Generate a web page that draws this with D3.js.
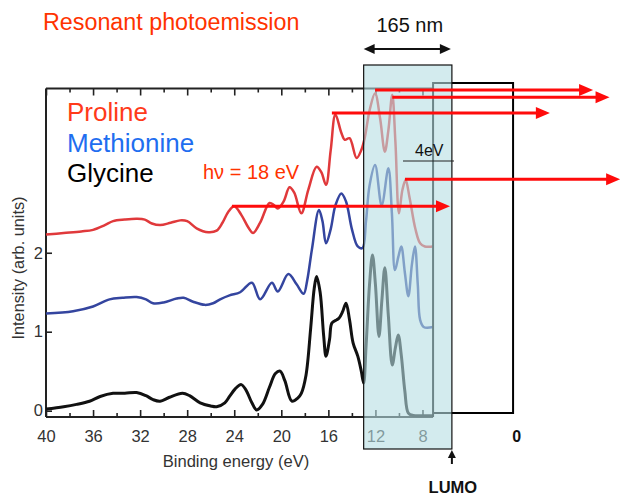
<!DOCTYPE html>
<html>
<head>
<meta charset="utf-8">
<script src="https://cdn.jsdelivr.net/npm/d3@7"></script>
<style>
  html, body { margin: 0; padding: 0; background: #fff; }
  svg { display: block; font-family: "Liberation Sans", Arial, Helvetica, sans-serif; }
</style>
</head>
<body>
<svg id="chart" width="622" height="495"></svg>
<script>
// Binding energy (eV) and intensity (arb. units), one array per spectrum
const prolineE = [40, 38.5, 37, 36, 35, 34.3, 33.3, 32.3, 31.6, 31, 30.3, 29.4, 28.6, 28.0, 27.2, 26.2, 25.5, 25.0, 24.5, 24.0, 23.4, 22.8, 22.4, 21.8, 21.0, 20.6, 20.3, 19.8, 19.3, 18.9, 18.3, 17.7, 17.0, 16.6, 16.2, 15.8, 15.4, 14.9, 14.6, 14.2, 13.6, 13.2, 12.9, 12.5, 12.03, 11.6, 11.2, 10.9, 10.57, 10.3, 10.0, 9.7, 9.43, 9.1, 8.6, 8.2, 7.8, 7.1];
const prolineI = [2.23, 2.25, 2.27, 2.29, 2.35, 2.40, 2.42, 2.43, 2.42, 2.37, 2.35, 2.38, 2.41, 2.40, 2.31, 2.26, 2.28, 2.38, 2.52, 2.59, 2.48, 2.32, 2.25, 2.38, 2.63, 2.60, 2.56, 2.65, 2.83, 2.76, 2.50, 2.80, 3.09, 3.02, 2.86, 3.30, 3.75, 3.52, 3.43, 3.45, 3.20, 3.30, 3.46, 3.80, 4.02, 3.70, 3.28, 3.55, 4.00, 3.40, 2.50, 2.80, 2.92, 2.70, 2.30, 2.12, 2.08, 2.08];

const methionineE = [40, 37.7, 36.0, 34.6, 33.5, 32.3, 31.5, 30.9, 30.0, 28.9, 28.3, 27.5, 26.5, 25.8, 25.2, 24.4, 23.5, 22.5, 21.8, 20.8, 20.3, 19.4, 18.7, 18.1, 17.8, 17.4, 16.8, 16.5, 16.2, 15.8, 15.4, 14.9, 14.5, 14.0, 13.5, 13.1, 12.8, 12.5, 12.03, 11.47, 10.9, 10.6, 10.34, 10.05, 9.8, 9.5, 9.2, 8.9, 8.64, 8.4, 8.2, 7.9, 7.1];
const methionineI = [1.23, 1.26, 1.32, 1.41, 1.43, 1.44, 1.41, 1.36, 1.37, 1.42, 1.43, 1.38, 1.34, 1.36, 1.41, 1.46, 1.50, 1.62, 1.41, 1.62, 1.51, 1.73, 1.60, 1.48, 1.65, 2.04, 2.54, 2.40, 2.12, 2.30, 2.60, 2.75, 2.65, 2.30, 2.08, 2.06, 2.40, 2.85, 3.11, 2.60, 3.07, 2.50, 1.78, 1.95, 2.08, 1.75, 1.45, 1.85, 2.08, 1.60, 1.15, 1.06, 1.06];

const glycineE = [40, 38.5, 37.4, 36.3, 35.4, 34.3, 33.3, 32.3, 31.5, 30.9, 30.3, 29.5, 28.4, 27.8, 26.9, 26.0, 25.5, 24.8, 24.4, 23.9, 23.4, 23.0, 22.5, 22.1, 21.6, 21.0, 20.5, 20.1, 19.7, 19.1, 18.6, 18.3, 17.9, 17.5, 17.2, 17.0, 16.7, 16.4, 16.2, 15.9, 15.7, 15.3, 15.1, 14.8, 14.5, 14.2, 13.9, 13.5, 13.2, 13.0, 12.8, 12.5, 12.25, 12.0, 11.7, 11.45, 11.2, 10.9, 10.57, 10.3, 10.06, 9.8, 9.5, 9.2, 8.8, 7.1];
const glycineI = [0.02, 0.05, 0.08, 0.12, 0.18, 0.22, 0.22, 0.23, 0.19, 0.14, 0.12, 0.17, 0.22, 0.19, 0.10, 0.06, 0.05, 0.10, 0.18, 0.28, 0.33, 0.26, 0.10, 0.01, 0.08, 0.30, 0.47, 0.50, 0.38, 0.12, 0.16, 0.22, 0.45, 1.05, 1.55, 1.70, 1.50, 0.95, 0.69, 0.90, 1.11, 1.15, 1.17, 1.25, 1.36, 1.15, 0.86, 0.69, 0.50, 0.35, 0.80, 1.60, 1.97, 1.60, 0.94, 1.40, 1.81, 1.20, 0.58, 0.80, 0.96, 0.70, 0.25, -0.03, -0.06, -0.06];

const seriesNames = ["Proline", "Methionine", "Glycine"];

// Axis ticks
const xMajorTicks = [40, 36, 32, 28, 24, 20, 16, 12, 8];
const xMinorTicks = [38, 34, 30, 26, 22, 18, 14, 10];
const yTicks = [0, 1, 2];

// Energy window of the 165 nm (7.5 eV) photon and the LUMO edge
const windowE = [13.0, 5.5];
const plotEndE = 7.1;          // right end of the measured range
const levelRightE = 0.3;       // right side of the level box
const levelTopI = 4.15;
const levelBottomI = -0.03;

// Resonance arrows: [start energy, intensity, end energy]
const arrowStartE = [12.03, 10.57, 15.7, 9.49, 24.2];
const arrowI      = [4.06, 3.97, 3.77, 2.93, 2.59];
const arrowEndE   = [-6.5, -7.9, -2.83, -8.8, 5.66];

const svg = d3.select("#chart");

const x = d3.scaleLinear().domain([40, 0]).range([46, 516.6]);
const y = d3.scaleLinear().domain([-0.08, 4.08]).range([417, 88.5]);

const axisColor = "#222";
const textColor = "#333";

// Tick marks on bottom and top frame (inward)
const gBottomMajor = svg.append("g").attr("transform", `translate(0,${y.range()[0]})`)
  .call(d3.axisBottom(x).tickValues(xMajorTicks).tickSizeInner(-7).tickSizeOuter(0).tickPadding(13).tickFormat(d3.format("d")));
const gBottomMinor = svg.append("g").attr("transform", `translate(0,${y.range()[0]})`)
  .call(d3.axisBottom(x).tickValues(xMinorTicks).tickSizeInner(-4).tickSizeOuter(0).tickFormat(""));
const gTopMajor = svg.append("g").attr("transform", `translate(0,${y.range()[1]})`)
  .call(d3.axisTop(x).tickValues(xMajorTicks).tickSizeInner(-7).tickSizeOuter(0).tickFormat(""));
const gTopMinor = svg.append("g").attr("transform", `translate(0,${y.range()[1]})`)
  .call(d3.axisTop(x).tickValues(xMinorTicks).tickSizeInner(-4).tickSizeOuter(0).tickFormat(""));
const gLeft = svg.append("g").attr("transform", `translate(${x(40)},0)`)
  .call(d3.axisLeft(y).tickValues(yTicks).tickSizeInner(-6).tickSizeOuter(0).tickPadding(3).tickFormat(d3.format("d")));

[gBottomMajor, gBottomMinor, gTopMajor, gTopMinor, gLeft].forEach(g => {
  g.select(".domain").remove();
  g.selectAll(".tick line").attr("stroke", axisColor).attr("stroke-width", 1.6);
  g.selectAll(".tick text").attr("fill", textColor).attr("font-size", 16.5)
    .attr("font-family", "'Liberation Sans', Arial, sans-serif");
});
gBottomMajor.selectAll(".tick text").attr("dy", "0.71em");

// Frame lines
const frame = svg.append("g").attr("stroke", axisColor).attr("stroke-width", 2).attr("fill", "none");
frame.append("line").attr("x1", x(40)).attr("x2", x(plotEndE)).attr("y1", y.range()[0]).attr("y2", y.range()[0]);
frame.append("line").attr("x1", x(40)).attr("x2", x(plotEndE)).attr("y1", y.range()[1]).attr("y2", y.range()[1]);
frame.append("line").attr("x1", x(40)).attr("x2", x(40)).attr("y1", y.range()[1]).attr("y2", y.range()[0]);

// Spectra
const line = d3.line().x(d => x(d[0])).y(d => y(d[1])).curve(d3.curveCatmullRom.alpha(0.5));
const spectra = [
  { E: prolineE, I: prolineI, color: "#e0393b", width: 2.5 },
  { E: methionineE, I: methionineI, color: "#34459f", width: 2.5 },
  { E: glycineE, I: glycineI, color: "#111", width: 3 }
];
spectra.forEach(s => {
  svg.append("path")
    .datum(s.E.map((e, i) => [e, s.I[i]]))
    .attr("d", line)
    .attr("fill", "none")
    .attr("stroke", s.color)
    .attr("stroke-width", s.width)
    .attr("stroke-linejoin", "round");
});

// Energy level box (measured range edge to 0 eV)
const level = svg.append("g").attr("stroke", "#000").attr("stroke-width", 2).attr("fill", "none");
level.append("path").attr("d", d3.line()([
  [x(plotEndE), y(levelBottomI) ],
  [x(levelRightE), y(levelBottomI)],
  [x(levelRightE), y(levelTopI)],
  [x(plotEndE), y(levelTopI)],
  [x(plotEndE), y.range()[0]]
]));

// Shaded photon-energy window
const winTop = 65, winBottom = 449;
svg.append("rect")
  .attr("x", x(windowE[0])).attr("y", winTop)
  .attr("width", x(windowE[1]) - x(windowE[0])).attr("height", winBottom - winTop)
  .attr("fill", "rgb(182,221,227)").attr("fill-opacity", 0.6)
  .attr("stroke", "#111").attr("stroke-width", 1.2);

// Arrow helper
function arrow(g, x1, y1, x2, y2, color, w, headLen, headHalf) {
  const dir = Math.sign(x2 - x1) || 1;
  g.append("line").attr("x1", x1).attr("y1", y1).attr("x2", x2 - dir * headLen * 0.8).attr("y2", y2)
    .attr("stroke", color).attr("stroke-width", w);
  g.append("path")
    .attr("d", `M${x2},${y2} L${x2 - dir * headLen},${y2 - headHalf} L${x2 - dir * headLen},${y2 + headHalf} Z`)
    .attr("fill", color);
}

// Resonance arrows
const arrows = svg.append("g");
arrowStartE.forEach((e, i) => {
  arrow(arrows, x(e), y(arrowI[i]), x(arrowEndE[i]), y(arrowI[i]), "#ff0b0b", 3, 14, 6);
});

// 165 nm double arrow
const dbl = svg.append("g");
const ya = 49;
dbl.append("line").attr("x1", x(windowE[0]) + 8).attr("x2", x(windowE[1]) - 8).attr("y1", ya).attr("y2", ya)
  .attr("stroke", "#111").attr("stroke-width", 2);
dbl.append("path").attr("d", `M${x(windowE[0])},${ya} L${x(windowE[0]) + 11},${ya - 5} L${x(windowE[0]) + 11},${ya + 5} Z`).attr("fill", "#111");
dbl.append("path").attr("d", `M${x(windowE[1]) - 1},${ya} L${x(windowE[1]) - 12},${ya - 5} L${x(windowE[1]) - 12},${ya + 5} Z`).attr("fill", "#111");
svg.append("text").attr("x", (x(windowE[0]) + x(windowE[1])) / 2 + 2).attr("y", 32)
  .attr("text-anchor", "middle").attr("font-size", 20).attr("fill", "#111").text("165 nm");

// LUMO marker
const lx = x(windowE[1]);
svg.append("line").attr("x1", lx).attr("x2", lx).attr("y1", 464).attr("y2", 455).attr("stroke", "#111").attr("stroke-width", 2);
svg.append("path").attr("d", `M${lx},${winBottom + 1} L${lx - 4},${winBottom + 9} L${lx + 4},${winBottom + 9} Z`).attr("fill", "#111");
svg.append("text").attr("x", lx + 1).attr("y", 493).attr("text-anchor", "middle")
  .attr("font-size", 16.5).attr("font-weight", "bold").attr("fill", "#111").text("LUMO");

// 0 eV label
svg.append("text").attr("x", x(0)).attr("y", 442).attr("text-anchor", "middle")
  .attr("font-size", 16).attr("font-weight", "bold").attr("fill", "#111").text("0");

// 4 eV marker
svg.append("text").attr("x", 415).attr("y", 156).attr("font-size", 16).attr("fill", "#111").text("4eV");
svg.append("line").attr("x1", 403).attr("x2", 454).attr("y1", 161).attr("y2", 161)
  .attr("stroke", "#222").attr("stroke-width", 1);

// Photon energy
svg.append("text").attr("x", 203).attr("y", 179).attr("font-size", 20).attr("fill", "#ff3300").text("hν = 18 eV");

// Title
svg.append("text").attr("x", 43).attr("y", 30).attr("font-size", 23.3).attr("fill", "#ff3300").text("Resonant photoemission");

// Legend
const legendColors = ["#ff3a1a", "#1f6ef0", "#000"];
const legendY = [121, 152, 182];
seriesNames.forEach((n, i) => {
  svg.append("text").attr("x", 67).attr("y", legendY[i]).attr("font-size", 26)
    .attr("fill", legendColors[i]).text(n);
});

// Axis titles
svg.append("text").attr("x", 236).attr("y", 467).attr("text-anchor", "middle")
  .attr("font-size", 16.6).attr("fill", textColor).text("Binding energy (eV)");
svg.append("text").attr("transform", "translate(24,268) rotate(-90)").attr("text-anchor", "middle")
  .attr("font-size", 16.3).attr("fill", textColor).text("Intensity (arb. units)");
</script>
</body>
</html>
